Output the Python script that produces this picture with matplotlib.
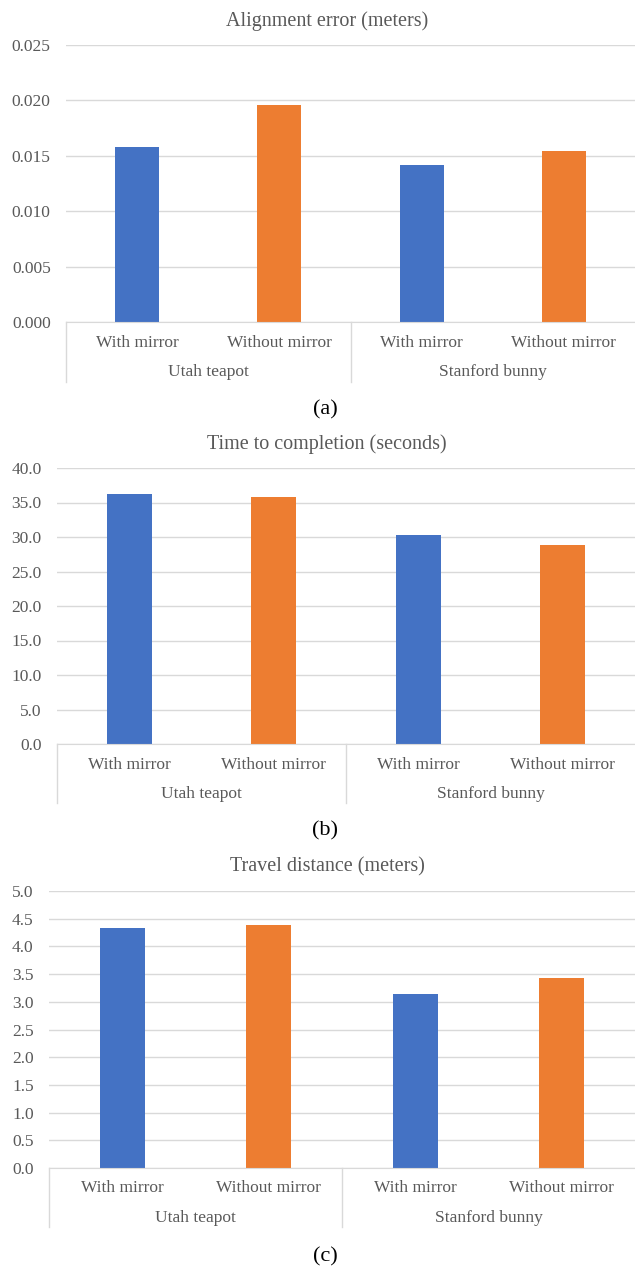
import matplotlib
matplotlib.use("Agg")
import matplotlib.pyplot as plt
import matplotlib.transforms as mtransforms

# data
groups = ["Utah teapot", "Stanford bunny"]
conditions = ["With mirror", "Without mirror"]
titles = ["Alignment error (meters)", "Time to completion (seconds)", "Travel distance (meters)"]
captions = ["(a)", "(b)", "(c)"]
align_err = [0.0158, 0.0196, 0.0142, 0.0154]
time_done = [36.3, 35.8, 30.3, 28.9]
travel = [4.33, 4.39, 3.14, 3.43]
ylims = [0.025, 40.0, 5.0]
ysteps = [0.005, 5.0, 0.5]
yfmts = ["{:.3f}", "{:.1f}", "{:.1f}"]

blue = "#4472C4"
orange = "#ED7D31"
grid_c = "#D9D9D9"
txt_c = "#595959"
plt.rcParams['font.family'] = ['Liberation Serif', 'DejaVu Serif']

W, H = 635, 1267
fig = plt.figure(figsize=(W / 100, H / 100), dpi=100)

# pixel layout of each panel: axes left, top, bottom; title y; sub y; group y; sep end; caption y
layout = [
    (66, 45, 322, 21, 343, 372, 382, 410),
    (57, 468, 744, 444, 765, 794, 803, 831),
    (49, 891, 1168, 867, 1188, 1218, 1227, 1257),
]

for k, vals in enumerate([align_err, time_done, travel]):
    left, top, bot, ty, suby, grpy, sepy, capy = layout[k]
    ax = fig.add_axes([left / W, 1 - bot / H, (W - left) / W, (bot - top) / H])
    xs = list(range(4))
    ax.bar(xs, vals, width=0.31, color=[blue, orange, blue, orange], zorder=3)
    ax.set_xlim(-0.5, 3.5)
    ax.set_ylim(0, ylims[k])
    n = int(round(ylims[k] / ysteps[k]))
    ticks = [i * ysteps[k] for i in range(n + 1)]
    ax.set_yticks(ticks)
    ax.set_yticklabels([yfmts[k].format(t) for t in ticks])
    ax.tick_params(axis='y', length=0, pad=11, labelsize=12.5, labelcolor=txt_c)
    ax.set_xticks([])
    ax.grid(axis='y', color=grid_c, linewidth=1, zorder=0)
    for s in ['top', 'right', 'left']:
        ax.spines[s].set_visible(False)
    ax.spines['bottom'].set_color(grid_c)
    ax.spines['bottom'].set_zorder(4)

    # category rows below the axis
    tr = mtransforms.blended_transform_factory(ax.transData, fig.transFigure)
    for i, x in enumerate(xs):
        fig.text(0, 0, conditions[i % 2], transform=tr, color=txt_c, fontsize=12.5,
                 ha='center', va='center').set_position((x, 1 - suby / H))
    for g, name in enumerate(groups):
        fig.text(0, 0, name, transform=tr, color=txt_c, fontsize=12.5,
                 ha='center', va='center').set_position((2 * g + 0.5, 1 - grpy / H))
    for xsep in [-0.5, 1.5]:
        ax.plot([xsep, xsep], [1 - bot / H, 1 - sepy / H], transform=tr,
                color=grid_c, linewidth=1, clip_on=False)

    fig.text(327 / W, 1 - ty / H, titles[k], color=txt_c, fontsize=14.5,
             ha='center', va='center')
    fig.text(325 / W, 1 - capy / H, captions[k], color='black', fontsize=16,
             ha='center', va='center')

fig.savefig("out.png", dpi=100, facecolor='white')
